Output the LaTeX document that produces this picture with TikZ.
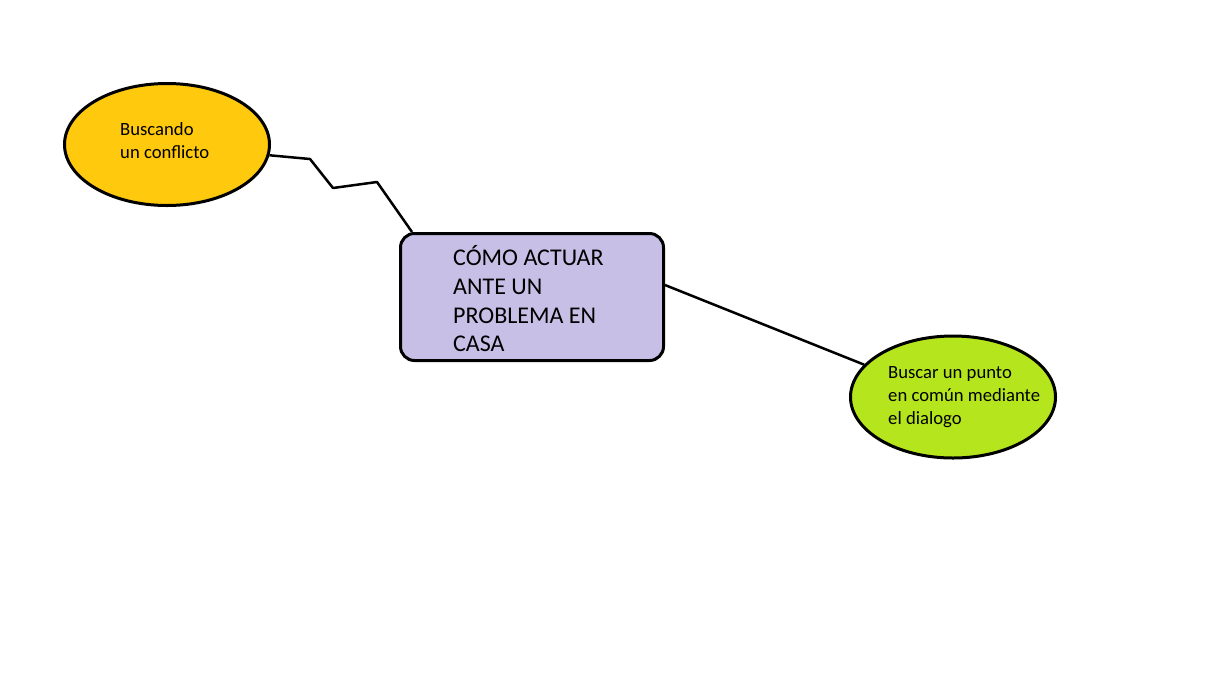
\documentclass[tikz,border=0pt]{standalone}
\usepackage{fontspec}
\setmainfont{Carlito}
\usetikzlibrary{shapes.geometric}
\definecolor{ellorange}{HTML}{FFC90E}
\definecolor{elllime}{HTML}{B5E61D}
\definecolor{boxlav}{HTML}{C8BFE7}
\tikzset{
  bubble/.style={ellipse, draw=black, line width=3pt, inner sep=0pt, minimum width=205pt, minimum height=122pt},
  mainbox/.style={rectangle, draw=black, line width=3pt, rounded corners=14pt, fill=boxlav, inner sep=0pt, minimum width=263pt, minimum height=127pt},
  smalltxt/.style={font=\fontsize{18.67}{23}\selectfont, align=left, inner sep=0pt, anchor=west},
  bigtxt/.style={font=\fontsize{24}{28.7}\selectfont, align=left, inner sep=0pt, anchor=west},
  link/.style={draw=black, line width=2.5pt, line join=round}
}
\begin{document}
\begin{tikzpicture}[x=1pt,y=-1pt]
\useasboundingbox (0,0) rectangle (1230,673);
\node[bubble, fill=ellorange] (e1) at (167,144.5) {};
\node[smalltxt] (t1) at (120,141) {Buscando\\un conflicto};
\node[mainbox] (b) at (532,297) {};
\node[bigtxt] (bt) at (453,299) {CÓMO ACTUAR\\ANTE UN\\PROBLEMA EN\\CASA};
\node[bubble, fill=elllime] (e2) at (953,397) {};
\node[smalltxt] (t2) at (888,397.5) {Buscar un punto\\en común mediante\\el dialogo};
\coordinate (z1) at (310,159);
\coordinate (z2) at (333,188);
\coordinate (z3) at (377,182);
\draw[link] (e1.-6) -- (z1) -- (z2) -- (z3) -- ([xshift=13pt]b.north west);
\draw[link] ([yshift=12pt]b.east) -- (e2.160);
\end{tikzpicture}
\end{document}
